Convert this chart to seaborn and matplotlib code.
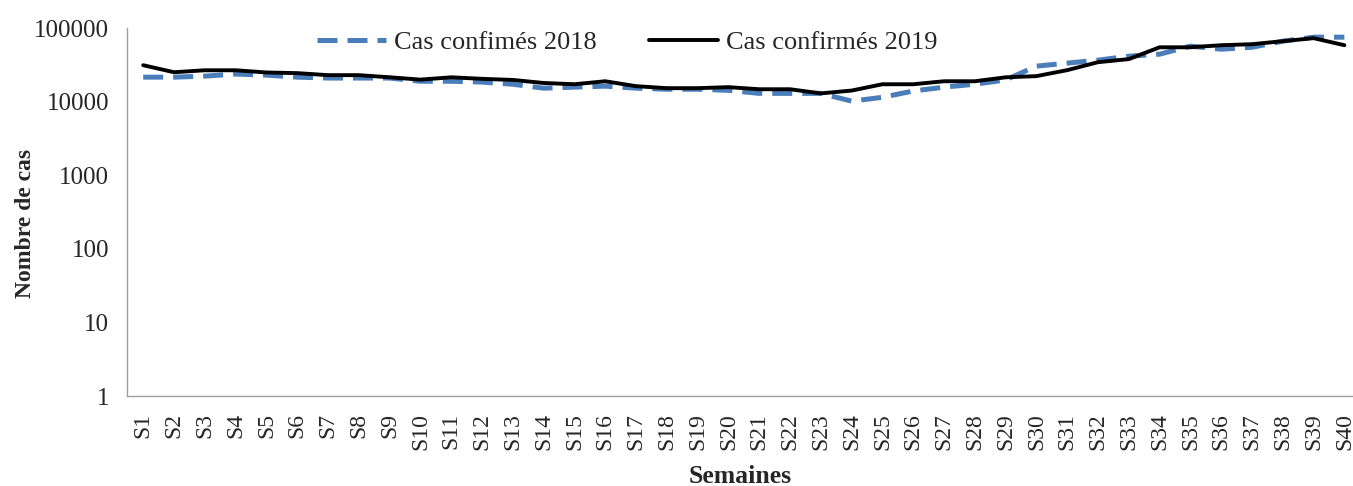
import pandas as pd
import matplotlib.pyplot as plt
import seaborn as sns

# Weekly confirmed cases
semaines = ['S' + str(i) for i in range(1, 41)]
cas_2018 = [21600, 21600, 22300, 23800, 23000, 21600, 21000, 21000, 21000, 19000,
            19000, 18500, 17300, 15300, 15800, 16300, 15300, 14800, 14800, 14300,
            13000, 13000, 13000, 10200, 11500, 14000, 15800, 17300, 19800, 30500,
            33500, 36800, 41600, 44300, 57000, 51800, 55000, 66600, 75500, 75500]
cas_2019 = [31400, 25200, 26800, 26800, 25000, 24500, 23000, 23000, 21500, 20000,
            21500, 20500, 19800, 18000, 17300, 19000, 16300, 15300, 15300, 15800,
            14800, 14800, 13000, 14200, 17300, 17300, 19000, 19000, 21500, 22300,
            26900, 34500, 38000, 55000, 55000, 58700, 60600, 66600, 73200, 58700]

df = pd.DataFrame({'Semaine': semaines, '2018': cas_2018, '2019': cas_2019})

sns.set_style('white')
plt.rcParams['font.family'] = ['Liberation Serif', 'DejaVu Serif']

fig = plt.figure(figsize=(13.53, 4.86), dpi=100)
ax = fig.add_axes([0.094, 0.185, 0.906, 0.757])

sns.lineplot(data=df, x='Semaine', y='2018', ax=ax, color='#4a7ebb', linewidth=3.6,
             label='Cas confimés 2018', sort=False)
sns.lineplot(data=df, x='Semaine', y='2019', ax=ax, color='black', linewidth=2.8,
             label='Cas confirmés 2019', sort=False)
ax.lines[0].set_dashes([4, 2])

ax.set_yscale('log')
ax.set_ylim(1, 100000)
ax.set_xlim(-0.52, 39.28)
ax.set_yticks([1, 10, 100, 1000, 10000, 100000])
ax.set_yticklabels(['1', '10', '100', '1000', '10000', '100000'])
ax.minorticks_off()
ax.tick_params(axis='y', labelsize=18, length=0, pad=13)
ax.tick_params(axis='x', labelsize=17, length=0, rotation=90, pad=12)

ax.set_xlabel('Semaines', fontsize=18.5, fontweight='bold', labelpad=11)
ax.set_ylabel('Nombre de cas', fontsize=17, fontweight='bold')
ax.yaxis.set_label_coords(-0.074, 0.47)

for side in ['top', 'right']:
    ax.spines[side].set_visible(False)
for side in ['left', 'bottom']:
    ax.spines[side].set_color('#a0a0a0')
    ax.spines[side].set_linewidth(1)

ax.legend(loc='center', bbox_to_anchor=(0.408, 0.962), ncol=2, frameon=False,
          fontsize=19, handlelength=2.6, columnspacing=2.0, handletextpad=0.3,
          borderpad=0)

plt.savefig('out.png', dpi=100)
